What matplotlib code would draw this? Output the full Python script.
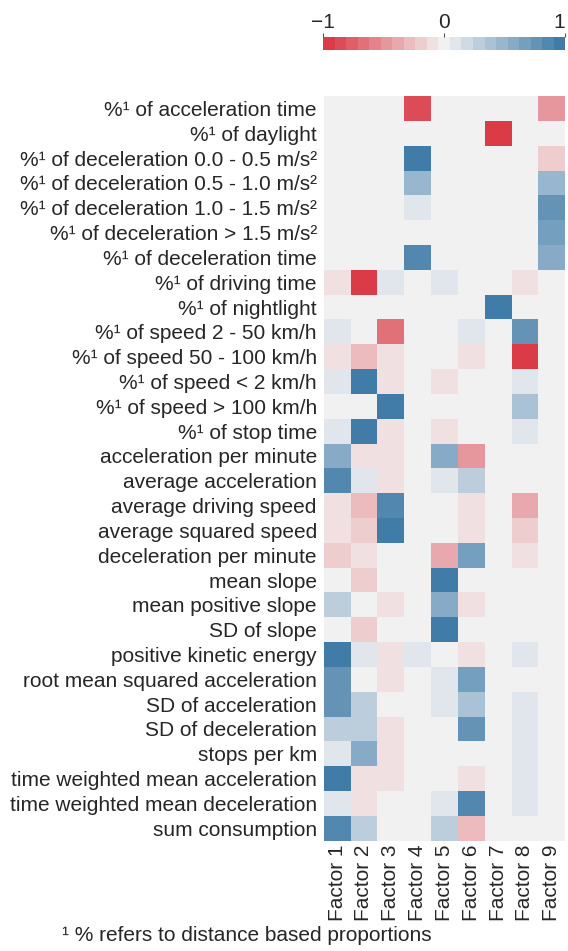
import numpy as np
import matplotlib
matplotlib.use("Agg")
import matplotlib.pyplot as plt
from matplotlib.colors import ListedColormap, BoundaryNorm
import seaborn as sns

plt.rcParams['font.family'] = ['Liberation Sans', 'DejaVu Sans']
plt.rcParams['text.color'] = '#262626'
plt.rcParams['xtick.color'] = '#262626'
plt.rcParams['ytick.color'] = '#262626'

# ---------- data ----------
features = [
    "%¹ of acceleration time",
    "%¹ of daylight",
    "%¹ of deceleration 0.0 - 0.5 m/s²",
    "%¹ of deceleration 0.5 - 1.0 m/s²",
    "%¹ of deceleration 1.0 - 1.5 m/s²",
    "%¹ of deceleration > 1.5 m/s²",
    "%¹ of deceleration time",
    "%¹ of driving time",
    "%¹ of nightlight",
    "%¹ of speed 2 - 50 km/h",
    "%¹ of speed 50 - 100 km/h",
    "%¹ of speed < 2 km/h",
    "%¹ of speed > 100 km/h",
    "%¹ of stop time",
    "acceleration per minute",
    "average acceleration",
    "average driving speed",
    "average squared speed",
    "deceleration per minute",
    "mean slope",
    "mean positive slope",
    "SD of slope",
    "positive kinetic energy",
    "root mean squared acceleration",
    "SD of acceleration",
    "SD of deceleration",
    "stops per km",
    "time weighted mean acceleration",
    "time weighted mean deceleration",
    "sum consumption",
]
factors = ["Factor %d" % i for i in range(1, 10)]

loadings = [
    [0, 0, 0, -0.85, 0, 0, 0, 0, -0.5],
    [0, 0, 0, 0, 0, 0, -0.95, 0, 0],
    [0, 0, 0, 0.95, 0, 0, 0, 0, -0.2],
    [0, 0, 0, 0.5, 0, 0, 0, 0, 0.5],
    [0, 0, 0, 0.1, 0, 0, 0, 0, 0.75],
    [0, 0, 0, 0, 0, 0, 0, 0, 0.65],
    [0, 0, 0, 0.85, 0, 0, 0, 0, 0.6],
    [-0.1, -0.95, 0.1, 0, 0.1, 0, 0, -0.1, 0],
    [0, 0, 0, 0, 0, 0, 0.95, 0, 0],
    [0.1, 0, -0.65, 0, 0, 0.1, 0, 0.75, 0],
    [-0.1, -0.3, -0.1, 0, 0, -0.1, 0, -0.95, 0],
    [0.1, 0.95, -0.1, 0, -0.1, 0, 0, 0.1, 0],
    [0, 0, 0.95, 0, 0, 0, 0, 0.35, 0],
    [0.1, 0.95, -0.1, 0, -0.1, 0, 0, 0.1, 0],
    [0.6, -0.1, -0.1, 0, 0.6, -0.5, 0, 0, 0],
    [0.85, 0.1, -0.1, 0, 0.1, 0.25, 0, 0, 0],
    [-0.1, -0.3, 0.85, 0, 0, -0.1, 0, -0.4, 0],
    [-0.1, -0.2, 0.95, 0, 0, -0.1, 0, -0.2, 0],
    [-0.2, -0.1, 0, 0, -0.4, 0.65, 0, -0.1, 0],
    [0, -0.2, 0, 0, 0.95, 0, 0, 0, 0],
    [0.25, 0, -0.1, 0, 0.6, -0.1, 0, 0, 0],
    [0, -0.2, 0, 0, 0.95, 0, 0, 0, 0],
    [0.95, 0.1, -0.1, 0.1, 0, -0.1, 0, 0.1, 0],
    [0.8, 0, -0.1, 0, 0.1, 0.7, 0, 0, 0],
    [0.75, 0.25, 0, 0, 0.1, 0.4, 0, 0.1, 0],
    [0.25, 0.25, -0.1, 0, 0, 0.75, 0, 0.1, 0],
    [0.1, 0.6, -0.1, 0, 0, 0, 0, 0.1, 0],
    [0.95, -0.1, -0.1, 0, 0, -0.1, 0, 0.1, 0],
    [0.1, -0.1, 0, 0, 0.1, 0.9, 0, 0.1, 0],
    [0.85, 0.25, 0, 0, 0.3, -0.3, 0, 0, 0],
]

footnote = "¹ % refers to distance based proportions"

# ---------- plot ----------
FS = 15
n_colors = 21
cmap = ListedColormap(sns.diverging_palette(10, 240, n=n_colors))
norm = BoundaryNorm(np.linspace(-1, 1, n_colors + 1), n_colors)

fig = plt.figure(figsize=(5.68, 9.51), dpi=100)
ax = fig.add_axes([0.570, 0.116, 0.425, 0.783])
data = np.array(loadings)
mesh = ax.pcolormesh(data, cmap=cmap, norm=norm)
ax.set_xlim(0, len(factors))
ax.set_ylim(len(features), 0)
ax.set_xticks(np.arange(len(factors)) + 0.5)
ax.set_xticklabels(factors, rotation=90, fontsize=FS)
ax.set_yticks(np.arange(len(features)) + 0.5)
ax.set_yticklabels(features, fontsize=FS)
ax.tick_params(axis='y', length=0, pad=5)
ax.tick_params(axis='x', length=0, pad=3)
for s in ax.spines.values():
    s.set_visible(False)

cax = fig.add_axes([0.569, 0.947, 0.426, 0.014])
cb = fig.colorbar(mesh, cax=cax, orientation='horizontal', ticks=[-1, 0, 1])
cb.outline.set_visible(False)
cax.minorticks_off()
cax.xaxis.set_ticks_position('top')
cax.set_xticklabels(['\u22121', '0', '1'], fontsize=FS)
cax.get_xticklabels()[-1].set_horizontalalignment('right')
cax.tick_params(length=3, width=0.8, color='#555555', pad=1)

fig.text(0.109, 0.006, footnote, fontsize=FS, ha='left', va='bottom')

fig.savefig("out.png", dpi=100)
